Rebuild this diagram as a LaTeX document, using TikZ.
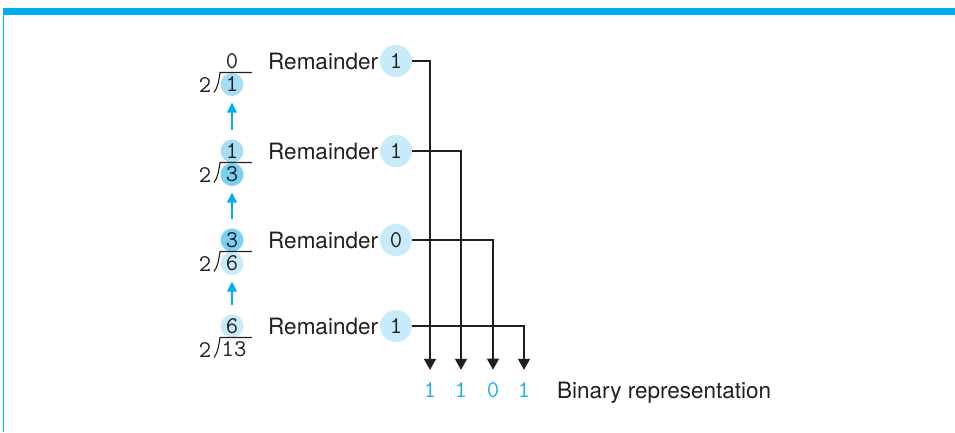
\documentclass[tikz,border=0pt]{standalone}
\usepackage{fontspec}
\setmainfont{TeX Gyre Heros}
\usetikzlibrary{arrows.meta}
\definecolor{ink}{RGB}{35,31,32}
\definecolor{cyanc}{RGB}{0,174,239}
\definecolor{bitc}{RGB}{26,176,232}
\definecolor{lightc}{RGB}{200,235,249}
\definecolor{midc}{RGB}{166,221,245}
\definecolor{darkc}{RGB}{122,208,241}
\begin{document}
\begin{tikzpicture}[x=1pt,y=-1pt,
  lbl/.style={font=\fontsize{22.5}{24}\selectfont, text=ink, inner sep=0pt},
  dig/.style={font=\ttfamily\fontsize{24}{26}\selectfont, text=ink, inner sep=0pt},
  qc/.style={dig, circle, minimum size=23pt},
  rc/.style={dig, circle, minimum size=32pt, fill=lightc},
  bit/.style={dig, text=bitc},
  conn/.style={draw=ink, line width=1.3pt, -{Triangle[width=12pt,length=11pt]}},
  upar/.style={draw=cyanc, line width=1.4pt, -{Triangle[width=10pt,length=10pt]}},
  divline/.style={draw=ink, line width=1.1pt}]
\useasboundingbox (0,0) rectangle (955,432);
% frame
\fill[cyanc] (3,8) rectangle (955,14.5);
\draw[cyanc, line width=1pt] (3.5,8) -- (3.5,432);

% division stacks
\node[dig] (q1) at (232,61) {0};
\node[qc, fill=midc] (d1) at (232,84.5) {1};
\node[qc, fill=midc] (q2) at (232,151) {1};
\node[qc, fill=darkc] (d2) at (232,174.5) {3};
\node[qc, fill=darkc] (q3) at (232,240) {3};
\node[qc, fill=lightc] (d3) at (232,263.5) {6};
\node[qc, fill=lightc] (q4) at (232,326) {6};
\node[dig] (d4) at (234,349.5) {13};
\foreach \b [count=\i] in {72.5,162.5,251.5,337.5}{
  \node[dig] (two\i) at (205,\b+13) {2};
  \draw[divline] (214,\b+20) .. controls (218,\b+15) and (219,\b+7) .. (220,\b) -- (252,\b);
}
\draw[upar, shorten <=9pt, shorten >=6.5pt] (q2) -- (d1);
\draw[upar, shorten <=9pt, shorten >=6.5pt] (q3) -- (d2);
\draw[upar, shorten <=9pt, shorten >=6.5pt] (q4) -- (d3);

% remainders
\foreach \y [count=\i] in {61,151,240,326}{
  \node[lbl, anchor=west] (r\i) at (268,\y) {Remainder};
}
\node[rc] (c1) at (396,61) {1};
\node[rc] (c2) at (396,151) {1};
\node[rc] (c3) at (396,240) {0};
\node[rc] (c4) at (396,326) {1};

% binary digits
\node[bit] (b1) at (430,390) {1};
\node[bit] (b2) at (461,390) {1};
\node[bit] (b3) at (493,390) {0};
\node[bit] (b4) at (524,390) {1};
\node[lbl, anchor=base west] (bin) at (557,398) {Binary representation};

\draw[conn, shorten >=12.5pt] (c1.east) -| (b1.north);
\draw[conn, shorten >=12.5pt] (c2.east) -| (b2.north);
\draw[conn, shorten >=12.5pt] (c3.east) -| (b3.north);
\draw[conn, shorten >=12.5pt] (c4.east) -| (b4.north);
\end{tikzpicture}
\end{document}
